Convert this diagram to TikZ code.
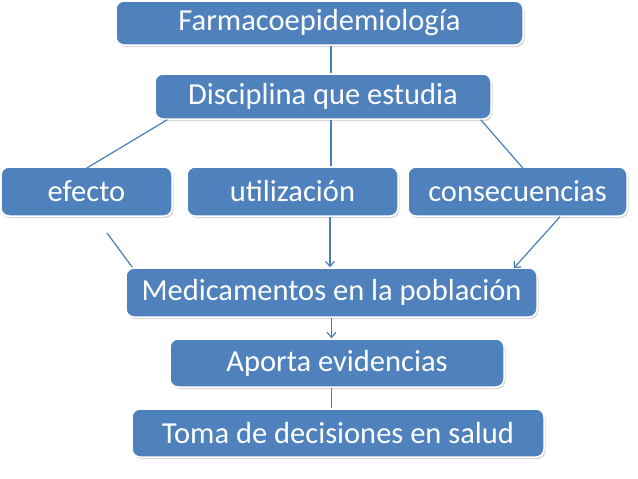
\documentclass[tikz,border=0pt]{standalone}
\usepackage{fontspec}
\setmainfont{Carlito}
\usetikzlibrary{arrows.meta, positioning, shadows}
\definecolor{boxblue}{RGB}{79,129,189}
\definecolor{lineblue}{RGB}{74,126,187}

\begin{document}
\begin{tikzpicture}[
  x=1pt, y=-1pt,
  font=\fontsize{30.5pt}{36pt}\selectfont,
  box/.style={draw=white, line width=1.5pt, rounded corners=8pt, fill=boxblue, text=white, inner sep=2pt,
    drop shadow={shadow xshift=1.5pt, shadow yshift=-2pt, opacity=0.25, fill=black!60}},
  link/.style={draw=lineblue, line width=1.2pt},
  arr/.style={link, -{Straight Barb[length=5pt, width=9pt]}}
]
\useasboundingbox (0,0) rectangle (638,479);
\node[box, minimum width=407pt, minimum height=44pt] (farm) at (319.5,23) {Farmacoepidemiología};
\node[box, minimum width=336pt, minimum height=45pt] (disc) at (323,96.5) {Disciplina que estudia};
\node[box, minimum width=171pt, minimum height=49pt] (efecto) at (86.5,191.5) {efecto};
\node[box, minimum width=211pt, minimum height=49pt] (util) at (292.5,191.5) {utilización};
\node[box, minimum width=219pt, minimum height=49pt] (cons) at (517.5,191.5) {consecuencias};
\node[box, minimum width=411pt, minimum height=49pt] (med) at (331.5,292.5) {Medicamentos en la población};
\node[box, minimum width=334pt, minimum height=48pt] (aporta) at (337,363) {Aporta evidencias};
\node[box, minimum width=412pt, minimum height=48pt] (toma) at (338,433) {Toma de decisiones en salud};
\coordinate (efree) at (107,233);

\draw[link] ([xshift=11.5pt]farm.south) -- ([xshift=11.5pt]farm.south |- disc.north);
\draw[link] ([xshift=13pt]disc.south west) -- ([yshift=-2pt]efecto.north);
\draw[link] ([xshift=8pt]disc.south) -- ([xshift=8pt]disc.south |- util.north);
\draw[link] ([xshift=-11pt]disc.south east) -- ([xshift=5.5pt,yshift=-2pt]cons.north);
\draw[link] (efree) -- ([xshift=7pt]med.north west);
\draw[arr] ([xshift=37.5pt]util.south) -- ([xshift=37.5pt]util.south |- med.north);
\draw[arr] ([xshift=42.5pt]cons.south) -- ([xshift=-24pt,yshift=-1pt]med.north east);
\draw[arr] (med.south) -- (med.south |- aporta.north);
\draw[link] (med.south |- aporta.south) -- (med.south |- toma.north);
\end{tikzpicture}
\end{document}
